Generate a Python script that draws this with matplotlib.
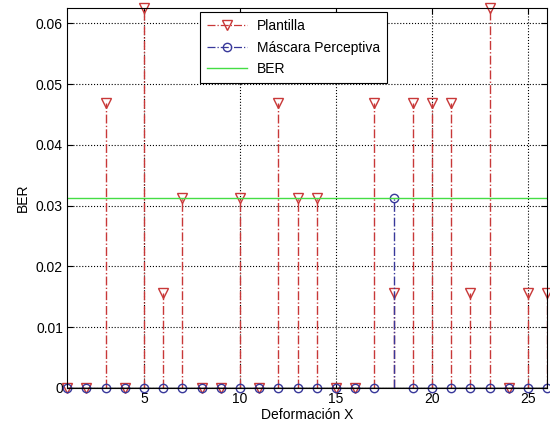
import matplotlib
matplotlib.use("Agg")
import matplotlib.pyplot as plt
import numpy as np
from matplotlib.lines import Line2D
from matplotlib.legend_handler import HandlerLine2D

plt.rcParams['font.family'] = ['Liberation Sans', 'DejaVu Sans']

deformacion = np.arange(1, 27)
plantilla = [0, 0, 0.046875, 0, 0.0625, 0.015625, 0.03125, 0, 0, 0.03125,
             0, 0.046875, 0.03125, 0.03125, 0, 0, 0.046875, 0.015625, 0.046875,
             0.046875, 0.046875, 0.015625, 0.0625, 0, 0.015625, 0.015625]
mascara = [0] * 17 + [0.03125] + [0] * 8
ber_ref = 0.03125

red = '#c83838'
blue = '#38389a'
green = '#44dd44'
fs = 10


class HandlerMarkerRight(HandlerLine2D):
    """Legend handle with the marker placed near the right end of the line."""
    def get_xdata(self, legend, xdescent, ydescent, width, height, fontsize):
        xdata = np.array([-xdescent, -xdescent + width])
        xmark = np.array([-xdescent + 0.85 * width])
        return xdata, xmark


fig = plt.figure(figsize=(5.5, 4.33), dpi=100)
ax = fig.add_axes([0.122, 0.104, 0.873, 0.877])

# Plantilla stems
ml, sl, bl = ax.stem(deformacion, plantilla, linefmt='-.', markerfmt='v', basefmt='k-')
plt.setp(sl, color=red, linewidth=1.0)
plt.setp(ml, markerfacecolor='none', markeredgecolor=red, markersize=7, clip_on=False)
plt.setp(bl, color='black', linewidth=1.0)

# Máscara Perceptiva stems
ml2, sl2, bl2 = ax.stem(deformacion, mascara, linefmt='-.', markerfmt='o', basefmt='k-')
plt.setp(sl2, color=blue, linewidth=1.0)
plt.setp(ml2, markerfacecolor='none', markeredgecolor=blue, markersize=6, clip_on=False)
plt.setp(bl2, color='black', linewidth=1.0)

ax.axhline(ber_ref, color=green, linewidth=1.0)

ax.set_xlim(1, 26)
ax.set_ylim(0, 0.0625)
ax.set_xticks([5, 10, 15, 20, 25])
ax.set_yticks([0, 0.01, 0.02, 0.03, 0.04, 0.05, 0.06])
ax.set_yticklabels(['0', '0.01', '0.02', '0.03', '0.04', '0.05', '0.06'])
ax.tick_params(direction='in', labelsize=fs, length=4, top=True, right=True, pad=3)
ax.grid(True, linestyle=':', color='black', linewidth=0.8)
ax.set_axisbelow(True)
for s in ax.spines.values():
    s.set_linewidth(0.8)

ax.set_xlabel('Deformación X', fontsize=fs, labelpad=1)
ax.set_ylabel('BER', fontsize=fs, labelpad=4)

h_pl = Line2D([], [], color=red, linestyle='-.', marker='v', markerfacecolor='none',
              markeredgecolor=red, markersize=7, linewidth=0.9)
h_ma = Line2D([], [], color=blue, linestyle='-.', marker='o', markerfacecolor='none',
              markeredgecolor=blue, markersize=6, linewidth=0.9)
h_ber = Line2D([], [], color=green, linewidth=1.0)
leg = ax.legend([h_pl, h_ma, h_ber], ['Plantilla', 'Máscara Perceptiva', 'BER'],
                loc='upper left', bbox_to_anchor=(0.277, 0.99), fontsize=fs,
                fancybox=False, framealpha=1, edgecolor='black',
                borderpad=0.5, labelspacing=0.55, handlelength=2.9, handletextpad=0.7,
                borderaxespad=0,
                handler_map={h_pl: HandlerMarkerRight(), h_ma: HandlerMarkerRight()})
leg.get_frame().set_linewidth(0.8)

fig.savefig('out.png', dpi=100)
